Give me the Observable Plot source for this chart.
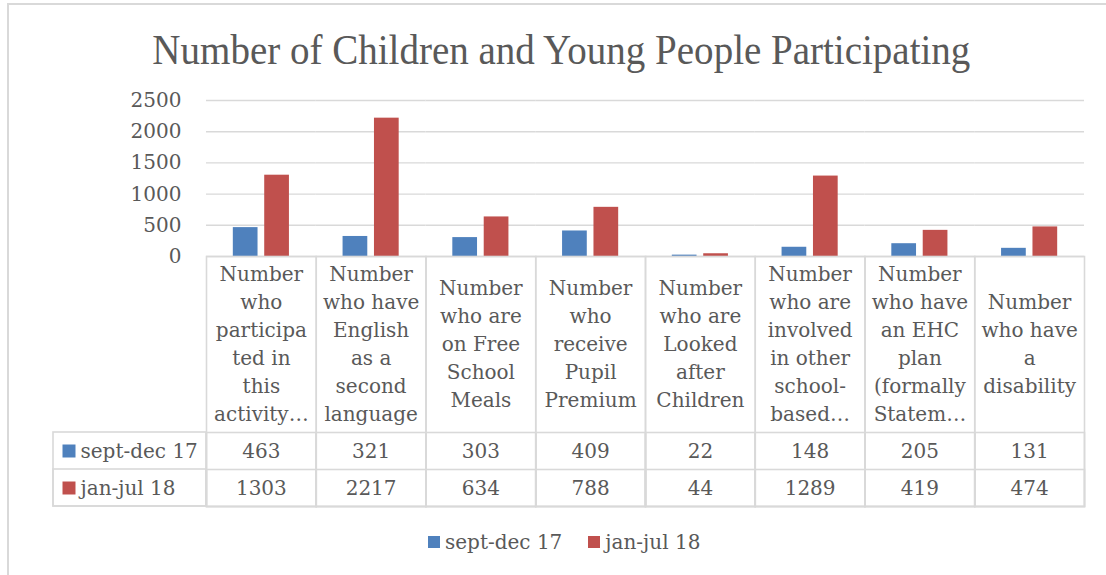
<!DOCTYPE html>
<html>
<head>
<meta charset="utf-8">
<script src="https://cdn.jsdelivr.net/npm/d3@7"></script>
<script src="https://cdn.jsdelivr.net/npm/@observablehq/plot@0.6"></script>
<style>
  html, body { margin: 0; padding: 0; background: #fff; overflow: hidden; }
  #wrap { position: relative; width: 1106px; height: 575px; overflow: hidden; }
  #border { position: absolute; left: 7px; top: 3px; width: 1200px; height: 700px;
            border-left: 2px solid #d9d9d9; border-top: 2px solid #d9d9d9; }
  #title { position: absolute; top: 29px; left: 0; width: 1106px; padding-left: 16px; box-sizing: border-box;
           text-align: center; font-family: "Liberation Serif", serif; font-size: 42px; line-height: 42px;
           color: #595959; white-space: nowrap; }
  #title span { display: inline-block; transform-origin: center; }
  #chart { position: absolute; left: 0; top: 85px; }
  #legend { position: absolute; left: 428px; top: 529px; height: 26px; display: flex; align-items: center;
            font-family: "DejaVu Serif", serif; font-size: 20px; color: #595959; white-space: nowrap; }
  #legend .sw { width: 12px; height: 12.5px; display: inline-block; }
</style>
</head>
<body>
<div id="wrap">
  <div id="border"></div>
  <div id="title"><span>Number of Children and Young People Participating</span></div>
  <div id="chart"></div>
  <div id="legend"></div>
</div>
<script>
// ---- data ----
const categories = [
  "Number who participated in this activity…",
  "Number who have English as a second language",
  "Number who are on Free School Meals",
  "Number who receive Pupil Premium",
  "Number who are Looked after Children",
  "Number who are involved in other school-based…",
  "Number who have an EHC plan (formally Statem…",
  "Number who have a disability"
];
const categoryLines = [
  ["Number", "who", "participa", "ted in", "this", "activity…"],
  ["Number", "who have", "English", "as a", "second", "language"],
  ["Number", "who are", "on Free", "School", "Meals"],
  ["Number", "who", "receive", "Pupil", "Premium"],
  ["Number", "who are", "Looked", "after", "Children"],
  ["Number", "who are", "involved", "in other", "school-", "based…"],
  ["Number", "who have", "an EHC", "plan", "(formally", "Statem…"],
  ["Number", "who have", "a", "disability"]
];
const series = ["sept-dec 17", "jan-jul 18"];
const septDec17 = [463, 321, 303, 409, 22, 148, 205, 131];
const janJul18 = [1303, 2217, 634, 788, 44, 1289, 419, 474];
const yTicks = [0, 500, 1000, 1500, 2000, 2500];
const seriesColors = ["#4F81BD", "#C0504D"];

// ---- derived table ----
const seriesValues = [septDec17, janJul18];
const rows = categories.flatMap((cat, i) =>
  series.map((s, k) => ({cat, series: s, value: seriesValues[k][i]})));

// ---- layout ----
const font = "'DejaVu Serif', serif";
const fs = 20;
const textColor = "#595959";
const lineColor = "#d9d9d9";
const W = 1106, H = 425, mL = 206, mR = 22, mT = 15, mB = 254;
const colW = (W - mL - mR) / categories.length;
const frameBottom = H - mB;
const catRowH = 176, valRowH = 37, headW = 153;
const row1Top = frameBottom + catRowH;
const row2Top = row1Top + valRowH;
const tableBottom = row2Top + valRowH;
const insetBottom = -(tableBottom - frameBottom);
const textShift = 7; // baseline tweak for DejaVu metrics

const tableMarks = [];
tableMarks.push(Plot.frame({stroke: lineColor, strokeWidth: 1.6, insetTop: frameBottom - mT, insetBottom}));
tableMarks.push(Plot.frame({stroke: lineColor, strokeWidth: 1.6, insetTop: row1Top - mT, insetBottom}));
tableMarks.push(Plot.frame({stroke: lineColor, strokeWidth: 1.6, insetTop: row2Top - mT, insetBottom}));
[row1Top, row2Top].forEach(top => {
  tableMarks.push(Plot.rect([categories[0]], {fx: d => d, insetLeft: -headW, insetRight: colW,
    insetTop: top - mT, insetBottom, fill: "none", stroke: lineColor, strokeWidth: 1.6}));
});
tableMarks.push(Plot.text(categories, {fx: d => d, text: (d, i) => categoryLines[i].join("\n"),
  frameAnchor: "bottom", dy: catRowH / 2 - 2, lineAnchor: "middle", lineHeight: 28 / fs,
  fontSize: fs, fontFamily: font, fill: textColor}));
series.forEach((s, k) => {
  const cy = catRowH + valRowH * k + valRowH / 2 + textShift;
  tableMarks.push(Plot.text(rows.filter(r => r.series === s), {fx: "cat", text: d => String(d.value),
    frameAnchor: "bottom", dy: cy, fontSize: fs, fontFamily: font, fill: textColor}));
  tableMarks.push(Plot.text([{cat: categories[0], label: s}], {fx: "cat", text: "label",
    frameAnchor: "bottom-left", textAnchor: "start", dx: -headW + 27, dy: cy,
    fontSize: fs, fontFamily: font, fill: textColor}));
  tableMarks.push(Plot.dot([{cat: categories[0], label: s}], {fx: "cat", fill: "label", symbol: "square",
    r: 13 / Math.sqrt(Math.PI), frameAnchor: "bottom-left", dx: -headW + 15.5, dy: cy - textShift}));
});

const chart = Plot.plot({
  width: W, height: H,
  marginLeft: mL, marginRight: mR, marginTop: mT, marginBottom: mB,
  style: {fontFamily: font, fontSize: fs + "px", color: textColor, background: "transparent", overflow: "visible"},
  fx: {domain: categories, padding: 0, round: false, axis: null},
  x: {domain: series, paddingInner: 0.213, paddingOuter: 0.854, round: false, axis: null},
  y: {domain: [0, 2500], ticks: yTicks, tickFormat: "d", tickSize: 0, tickPadding: 25, label: null},
  color: {domain: series, range: seriesColors},
  marks: [
    Plot.ruleY(yTicks, {stroke: lineColor, strokeWidth: 1.4}),
    Plot.barY(rows, {fx: "cat", x: "series", y: "value", fill: "series"}),
    ...tableMarks
  ]
});
document.getElementById("chart").appendChild(chart);

// legend
const legend = document.getElementById("legend");
series.forEach((s, k) => {
  const sw = document.createElement("span");
  sw.className = "sw";
  sw.style.background = seriesColors[k];
  sw.style.marginRight = "5px";
  if (k > 0) sw.style.marginLeft = "26px";
  legend.appendChild(sw);
  const t = document.createElement("span");
  t.textContent = s;
  legend.appendChild(t);
});

// fit title width
const span = document.querySelector("#title span");
const w = span.getBoundingClientRect().width;
span.style.transform = `scaleX(${818 / w})`;
</script>
</body>
</html>
